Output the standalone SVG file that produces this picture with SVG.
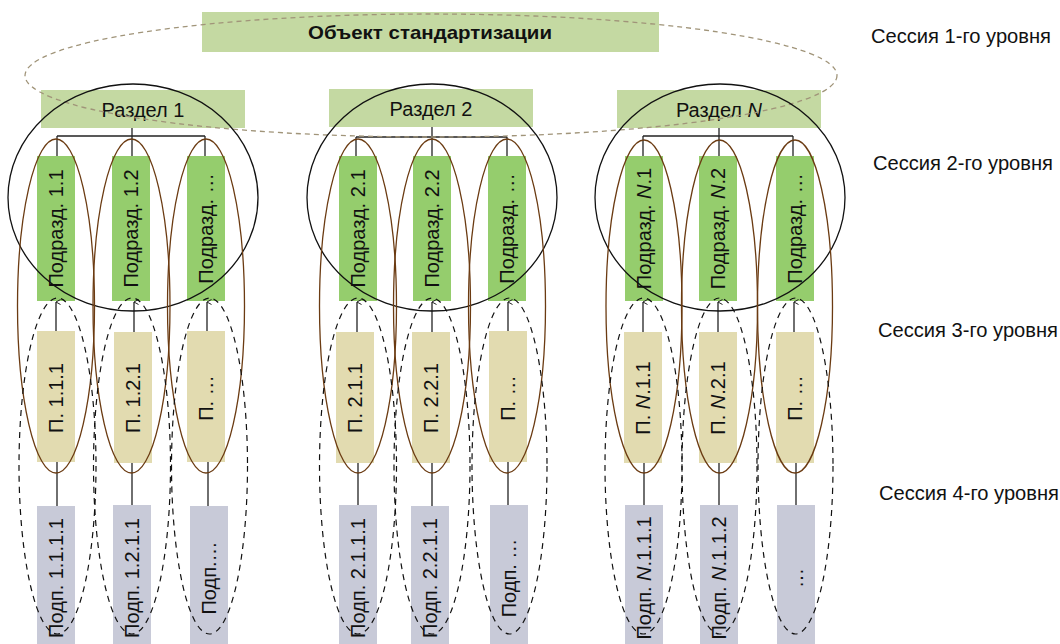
<svg xmlns="http://www.w3.org/2000/svg" width="1060" height="644" viewBox="0 0 1060 644">
<style>
text{font-family:"Liberation Sans",Arial,sans-serif;font-size:20px;fill:#111}
.top{fill:#c4d9a2}
.l2{fill:#95cd6d}
.l3{fill:#e2dbb0}
.l4{fill:#c8cad8}
.vt{text-anchor:middle}
.ses{font-size:19.5px}
.con line{stroke:#222;stroke-width:1.3}
.br{fill:none;stroke:#6b3b12;stroke-width:1.3}
.dsh{fill:none;stroke:#111;stroke-width:1.2;stroke-dasharray:6 5}
.big{fill:none;stroke:#111;stroke-width:1.3}
.obj{fill:none;stroke:#a09479;stroke-width:1.3;stroke-dasharray:5 4}
</style>
<defs>
<marker id="ar" markerWidth="6" markerHeight="6" refX="3" refY="0.5" orient="auto" markerUnits="userSpaceOnUse">
<path d="M0.5,5 L3,0.5 L5.5,5" fill="none" stroke="#222" stroke-width="1"/>
</marker>
</defs>

<!-- top node -->
<g id="obj">
<rect class="top" x="202" y="12" width="457" height="40"/>
<text x="430" y="38.5" text-anchor="middle" style="font-weight:bold;font-size:19px" textLength="244" lengthAdjust="spacingAndGlyphs">Объект стандартизации</text>
</g>

<!-- sections -->
<g id="sec1"><rect class="top" x="41" y="90" width="204" height="38"/><text x="143" y="117" text-anchor="middle">Раздел 1</text></g>
<g id="sec2"><rect class="top" x="329" y="89" width="204" height="38"/><text x="431" y="116" text-anchor="middle">Раздел 2</text></g>
<g id="secN"><rect class="top" x="617" y="90" width="204" height="38"/><text x="719" y="117" text-anchor="middle">Раздел <tspan font-style="italic">N</tspan></text></g>

<!-- level 2 -->
<g id="s11"><rect class="l2" x="37" y="156" width="38" height="145"/><text class="vt" transform="translate(63,228.5) rotate(-90)">Подразд. 1.1</text></g>
<g id="s12"><rect class="l2" x="112" y="156" width="38" height="145"/><text class="vt" transform="translate(138,228.5) rotate(-90)">Подразд. 1.2</text></g>
<g id="s13"><rect class="l2" x="187" y="156" width="38" height="145"/><text class="vt" transform="translate(213,228.5) rotate(-90)">Подразд. …</text></g>
<g id="s21"><rect class="l2" x="339" y="156" width="38" height="145"/><text class="vt" transform="translate(365,228.5) rotate(-90)">Подразд. 2.1</text></g>
<g id="s22"><rect class="l2" x="413" y="156" width="38" height="145"/><text class="vt" transform="translate(439,228.5) rotate(-90)">Подразд. 2.2</text></g>
<g id="s23"><rect class="l2" x="488" y="156" width="38" height="145"/><text class="vt" transform="translate(514,228.5) rotate(-90)">Подразд. …</text></g>
<g id="sN1"><rect class="l2" x="625" y="156" width="38" height="145"/><text class="vt" transform="translate(651,228.5) rotate(-90)">Подразд. <tspan font-style="italic">N</tspan>.1</text></g>
<g id="sN2"><rect class="l2" x="699" y="156" width="38" height="145"/><text class="vt" transform="translate(725,228.5) rotate(-90)">Подразд. <tspan font-style="italic">N</tspan>.2</text></g>
<g id="sN3"><rect class="l2" x="776" y="156" width="38" height="145"/><text class="vt" transform="translate(802,228.5) rotate(-90)">Подразд. …</text></g>

<!-- level 3 -->
<g id="p111"><rect class="l3" x="37" y="331" width="38" height="131"/><text class="vt" transform="translate(63,398) rotate(-90)">П. 1.1.1</text></g>
<g id="p121"><rect class="l3" x="114" y="332" width="38" height="131"/><text class="vt" transform="translate(140,398) rotate(-90)">П. 1.2.1</text></g>
<g id="p13"><rect class="l3" x="187" y="331" width="38" height="131"/><text class="vt" transform="translate(213,398) rotate(-90)">П. …</text></g>
<g id="p211"><rect class="l3" x="336" y="332" width="38" height="131"/><text class="vt" transform="translate(362,398) rotate(-90)">П. 2.1.1</text></g>
<g id="p221"><rect class="l3" x="412" y="332" width="38" height="131"/><text class="vt" transform="translate(438,398) rotate(-90)">П. 2.2.1</text></g>
<g id="p23"><rect class="l3" x="489" y="331" width="38" height="131"/><text class="vt" transform="translate(515,398) rotate(-90)">П. …</text></g>
<g id="pN11"><rect class="l3" x="624" y="332" width="38" height="131"/><text class="vt" transform="translate(650,398) rotate(-90)">П. <tspan font-style="italic">N</tspan>.1.1</text></g>
<g id="pN21"><rect class="l3" x="699" y="332" width="38" height="131"/><text class="vt" transform="translate(725,398) rotate(-90)">П. <tspan font-style="italic">N</tspan>.2.1</text></g>
<g id="pN3"><rect class="l3" x="776" y="332" width="38" height="131"/><text class="vt" transform="translate(802,398) rotate(-90)">П. …</text></g>

<!-- level 4 -->
<g id="q1111"><rect class="l4" x="37" y="506" width="38" height="144"/><text class="vt" transform="translate(63,578) rotate(-90)">Подп. 1.1.1.1</text></g>
<g id="q1211"><rect class="l4" x="113" y="505" width="38" height="145"/><text class="vt" transform="translate(139,578) rotate(-90)">Подп. 1.2.1.1</text></g>
<g id="q13"><rect class="l4" x="190" y="506" width="38" height="144"/><text class="vt" transform="translate(216,578) rotate(-90)">Подп.…</text></g>
<g id="q2111"><rect class="l4" x="339" y="505" width="38" height="145"/><text class="vt" transform="translate(365,578) rotate(-90)">Подп. 2.1.1.1</text></g>
<g id="q2211"><rect class="l4" x="411" y="506" width="38" height="144"/><text class="vt" transform="translate(437,578) rotate(-90)">Подп. 2.2.1.1</text></g>
<g id="q23"><rect class="l4" x="490" y="505" width="38" height="145"/><text class="vt" transform="translate(516,578) rotate(-90)">Подп. …</text></g>
<g id="qN111"><rect class="l4" x="625" y="505" width="38" height="145"/><text class="vt" transform="translate(651,578) rotate(-90)">Подп. <tspan font-style="italic">N</tspan>.1.1.1</text></g>
<g id="qN112"><rect class="l4" x="700" y="505" width="38" height="145"/><text class="vt" transform="translate(726,578) rotate(-90)">Подп. <tspan font-style="italic">N</tspan>.1.1.2</text></g>
<g id="qN3"><rect class="l4" x="777" y="505" width="38" height="145"/><text class="vt" transform="translate(803,578) rotate(-90)">…</text></g>

<!-- connectors -->
<g id="connectors" class="con">
<line x1="132" y1="128" x2="132" y2="136"/><line x1="57" y1="136" x2="205" y2="136"/>
<line x1="57" y1="136" x2="57" y2="156"/><line x1="132" y1="136" x2="132" y2="156"/><line x1="205" y1="136" x2="205" y2="156"/>
<line x1="432" y1="127" x2="432" y2="137"/><line x1="356" y1="137" x2="507" y2="137"/>
<line x1="356" y1="137" x2="356" y2="156"/><line x1="432" y1="137" x2="432" y2="156"/><line x1="507" y1="137" x2="507" y2="156"/>
<line x1="719" y1="128" x2="719" y2="136"/><line x1="643" y1="136" x2="793" y2="136"/>
<line x1="643" y1="136" x2="643" y2="156"/><line x1="719" y1="136" x2="719" y2="156"/><line x1="793" y1="136" x2="793" y2="156"/>

<line x1="56" y1="331" x2="56" y2="302" marker-end="url(#ar)"/>
<line x1="134" y1="332" x2="134" y2="302" marker-end="url(#ar)"/>
<line x1="207" y1="331" x2="207" y2="302" marker-end="url(#ar)"/>
<line x1="357" y1="332" x2="357" y2="302" marker-end="url(#ar)"/>
<line x1="432" y1="332" x2="432" y2="302" marker-end="url(#ar)"/>
<line x1="508" y1="331" x2="508" y2="302" marker-end="url(#ar)"/>
<line x1="643" y1="332" x2="643" y2="302" marker-end="url(#ar)"/>
<line x1="718" y1="332" x2="718" y2="302" marker-end="url(#ar)"/>
<line x1="794" y1="332" x2="794" y2="302" marker-end="url(#ar)"/>

<line x1="57" y1="462" x2="57" y2="506"/>
<line x1="132" y1="463" x2="132" y2="505"/>
<line x1="208" y1="462" x2="208" y2="506"/>
<line x1="358" y1="463" x2="358" y2="505"/>
<line x1="432" y1="463" x2="432" y2="506"/>
<line x1="508" y1="462" x2="508" y2="505"/>
<line x1="644" y1="463" x2="644" y2="505"/>
<line x1="719" y1="463" x2="719" y2="505"/>
<line x1="796" y1="463" x2="796" y2="505"/>
</g>

<!-- groupings -->
<g id="groupings">
<ellipse class="obj" cx="431" cy="75.5" rx="406" ry="61.5"/>
<ellipse class="big" cx="133" cy="197.5" rx="125" ry="113.5"/>
<ellipse class="big" cx="432" cy="197.5" rx="125" ry="113.5"/>
<ellipse class="big" cx="720" cy="197.5" rx="125" ry="113.5"/>
<ellipse class="br" cx="56" cy="306" rx="38.5" ry="167"/>
<ellipse class="br" cx="131.5" cy="306" rx="38.5" ry="167"/>
<ellipse class="br" cx="206" cy="306" rx="38.5" ry="167"/>
<ellipse class="br" cx="358" cy="306" rx="38.5" ry="167"/>
<ellipse class="br" cx="432" cy="306" rx="38.5" ry="167"/>
<ellipse class="br" cx="507" cy="306" rx="38.5" ry="167"/>
<ellipse class="br" cx="644" cy="306.5" rx="38" ry="166.5"/>
<ellipse class="br" cx="719.5" cy="306.5" rx="38" ry="166.5"/>
<ellipse class="br" cx="795" cy="306.5" rx="37.5" ry="166.5"/>
<ellipse class="dsh" cx="57.5" cy="466" rx="38.5" ry="168"/>
<ellipse class="dsh" cx="132" cy="466" rx="38.5" ry="168"/>
<ellipse class="dsh" cx="209.5" cy="466" rx="38" ry="168"/>
<ellipse class="dsh" cx="358" cy="466" rx="38.5" ry="168"/>
<ellipse class="dsh" cx="432" cy="466" rx="38" ry="168"/>
<ellipse class="dsh" cx="509.5" cy="466" rx="37.5" ry="168"/>
<ellipse class="dsh" cx="643.5" cy="466" rx="38.5" ry="168"/>
<ellipse class="dsh" cx="719.5" cy="466" rx="37.5" ry="168"/>
<ellipse class="dsh" cx="795.5" cy="466" rx="37.5" ry="168"/>
</g>

<!-- session labels -->
<g id="sessions">
<text class="ses" x="871" y="43" textLength="180" lengthAdjust="spacingAndGlyphs">Сессия 1-го уровня</text>
<text class="ses" x="873" y="170" textLength="180" lengthAdjust="spacingAndGlyphs">Сессия 2-го уровня</text>
<text class="ses" x="878" y="337" textLength="180" lengthAdjust="spacingAndGlyphs">Сессия 3-го уровня</text>
<text class="ses" x="879" y="500" textLength="180" lengthAdjust="spacingAndGlyphs">Сессия 4-го уровня</text>
</g>
</svg>
